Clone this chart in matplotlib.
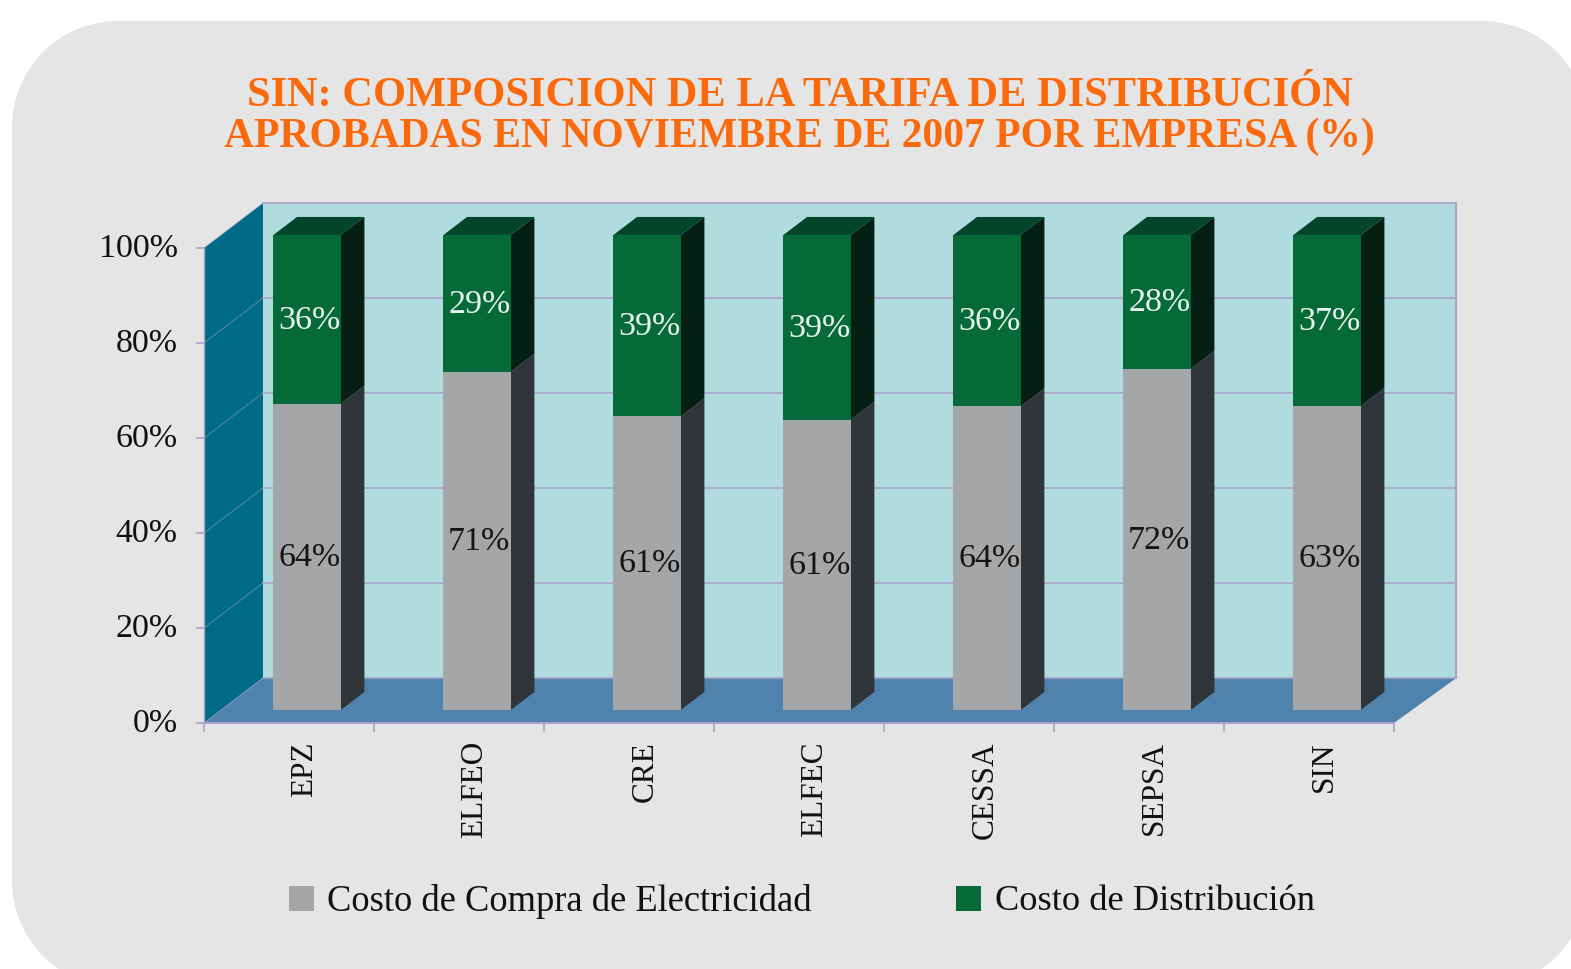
import matplotlib
matplotlib.use("Agg")
import matplotlib.pyplot as plt
from matplotlib.patches import PathPatch, Polygon, Rectangle
from matplotlib.path import Path

plt.rcParams['font.family'] = ['Liberation Serif', 'DejaVu Serif']

empresas = ['EPZ', 'ELFEO', 'CRE', 'ELFEC', 'CESSA', 'SEPSA', 'SIN']
compra = [64.5, 71.2, 61.8, 61.1, 63.9, 71.8, 64.0]
distribucion = [35.5, 28.8, 38.2, 38.9, 36.1, 28.2, 36.0]
labels_compra = ['64%', '71%', '61%', '61%', '64%', '72%', '63%']
labels_dist = ['36%', '29%', '39%', '39%', '36%', '28%', '37%']
yticks = [0, 20, 40, 60, 80, 100]

W, H = 1571, 970
fig = plt.figure(figsize=(W / 100, H / 100), dpi=100, facecolor='white')

# panel behind everything, runs off the right and bottom edge
bg = fig.add_axes([0, 0, 1, 1])
bg.set_xlim(0, W)
bg.set_ylim(H, 0)
bg.axis('off')


def rounded(l, t, r, b, rad):
    k = rad * 0.4477
    verts = [(l + rad, t), (r - rad, t), (r - k, t), (r, t + k), (r, t + rad),
             (r, b - rad), (r, b - k), (r - k, b), (r - rad, b),
             (l + rad, b), (l + k, b), (l, b - k), (l, b - rad),
             (l, t + rad), (l, t + k), (l + k, t), (l + rad, t)]
    C4 = Path.CURVE4
    codes = [Path.MOVETO, Path.LINETO, C4, C4, C4, Path.LINETO, C4, C4, C4,
             Path.LINETO, C4, C4, C4, Path.LINETO, C4, C4, C4]
    return Path(verts, codes)


bg.add_patch(PathPatch(rounded(12, 22, 1588, 988, 106), fc='#E5E5E5', ec='none'))

# axes: x 0..7 is 204..1394 px, y 0..100 is 724..249 px
ax = fig.add_axes([204 / W, 1 - 724 / H, 1190 / W, 475 / H])
ax.set_xlim(0, 7)
ax.set_ylim(0, 100)
ax.axis('off')
ax.patch.set_alpha(0)

DX = 59 / 170
DY = 45 / 4.75
XBACK = 7 + DX + 0.02   # back wall is a little wider than the front edge
grid = '#A9A3CB'


def pt(x, y, d=0.0):
    # d is depth, 0 front of the box, 1 back wall
    return (x + d * DX, y + d * DY)


def poly(points, color, z=1):
    ax.add_patch(Polygon(points, closed=True, fc=color, ec='none', clip_on=False, zorder=z))


# walls and floor
poly([pt(0, 0, 1), (XBACK, DY), (XBACK, 100 + DY), pt(0, 100, 1)], '#B0DCDF')
poly([pt(0, 0), pt(0, 0, 1), pt(0, 100, 1), pt(0, 100)], '#006B87')
poly([pt(0, 0), pt(7, 0), (XBACK, DY), pt(0, 0, 1)], '#4F82AC')

for v in yticks:
    a, b = pt(0, v), pt(0, v, 1)
    ax.plot([a[0], b[0]], [a[1], b[1]], color=grid, lw=0.8, alpha=0.45, zorder=2, clip_on=False)
    ax.plot([b[0], XBACK], [b[1], b[1]], color=grid, lw=1.2, zorder=2, clip_on=False)
    ax.plot([-0.04, 0], [v, v], color=grid, lw=1.2, clip_on=False, zorder=2)
    ax.text(-0.155, v, f'{v}%', ha='right', va='center', fontsize=24.5, color='#111111')
ax.plot([XBACK, XBACK], [DY, 100 + DY], color=grid, lw=1.5, zorder=2, clip_on=False)
ax.plot([0, 0], [0, 100], color=grid, lw=1, zorder=2, clip_on=False)
ax.plot([0, 7], [0, 0], color=grid, lw=1.5, zorder=4, clip_on=False)
for i in range(8):
    ax.plot([i, i], [0, -1.6], color=grid, lw=1.2, clip_on=False, zorder=2)

# bars
front, back = 0.29, 0.69
half = 0.198
for i, emp in enumerate(empresas):
    xc = i + 0.506
    x0, x1 = xc - half, xc + half
    g, t = compra[i], compra[i] + distribucion[i]
    z = 5
    # side faces
    poly([pt(x1, 0, front), pt(x1, 0, back), pt(x1, g, back), pt(x1, g, front)], '#2F3539', z)
    poly([pt(x1, g, front), pt(x1, g, back), pt(x1, t, back), pt(x1, t, front)], '#061F14', z)
    # top
    poly([pt(x0, t, front), pt(x1, t, front), pt(x1, t, back), pt(x0, t, back)], '#03452A', z)
    # front faces
    poly([pt(x0, 0, front), pt(x1, 0, front), pt(x1, g, front), pt(x0, g, front)], '#A5A6A8', z)
    poly([pt(x0, g, front), pt(x1, g, front), pt(x1, t, front), pt(x0, t, front)], '#066A38', z)
    # value labels
    lx, ly = pt(xc + 0.012, g / 2, front)
    ax.text(lx, ly, labels_compra[i], ha='center', va='center', fontsize=24.5, color='#151515', zorder=6)
    lx, ly = pt(xc + 0.012, g + distribucion[i] / 2, front)
    ax.text(lx, ly, labels_dist[i], ha='center', va='center', fontsize=24.5, color='#E8F2EC', zorder=6)
    # category label
    ax.text(pt(xc, 0, front)[0] - 0.014, -3.6, emp, rotation=90, ha='center', va='top', fontsize=22.5, color='#111111')

# title
bg.text(799.5, 96, 'SIN: COMPOSICION DE LA TARIFA DE DISTRIBUCIÓN', ha='center', va='center',
        fontsize=30.6, fontweight='bold', color='#FA6A0C')
bg.text(799.5, 137, 'APROBADAS EN NOVIEMBRE DE 2007 POR EMPRESA (%)', ha='center', va='center',
        fontsize=30, fontweight='bold', color='#FA6A0C')

# legend
bg.add_patch(Rectangle((289, 887), 25, 25, fc='#A5A6A8', ec='none'))
bg.text(327, 902, 'Costo de Compra de Electricidad', ha='left', va='center', fontsize=26.3, color='#111111')
bg.add_patch(Rectangle((956, 887), 25, 25, fc='#066A38', ec='none'))
bg.text(995, 902, 'Costo de Distribución', ha='left', va='center', fontsize=26.2, color='#111111')

fig.savefig('out.png', dpi=100)
